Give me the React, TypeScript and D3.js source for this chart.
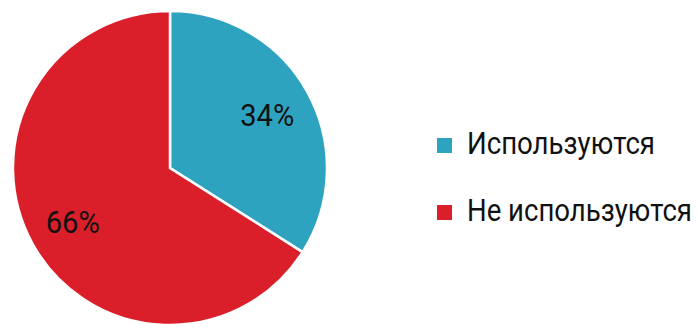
import React from "react";
import * as d3 from "d3";

const categories = ["Используются", "Не используются"];
const values = [34, 66];
const colors = ["#2EA3C0", "#DA1F2A"];
const legendWidths = [188, 225];

export default function App() {
  const W = 699, H = 324;
  const cx = 170, cy = 168, R = 157;
  const pie = d3.pie<number>().sort(null).value((d) => d);
  const arcs = pie(values);
  const arc = d3.arc<d3.PieArcDatum<number>>().innerRadius(0).outerRadius(R);
  const labelArc = d3.arc<d3.PieArcDatum<number>>().innerRadius(111).outerRadius(111);
  return (
    <svg width={W} height={H} style={{ position: "absolute", left: 0, top: 0, fontFamily: "Roboto, sans-serif" }}>
      <g transform={`translate(${cx},${cy})`}>
        {arcs.map((a, i) => (
          <path key={i} d={arc(a) || ""} fill={colors[i]} stroke="#fff" strokeWidth={2.5} strokeLinejoin="miter" />
        ))}
        {arcs.map((a, i) => {
          const [x, y] = labelArc.centroid(a);
          return (
            <text key={i} x={x} y={y} dy="0.36em" textAnchor="middle" fontSize={32} fill="#111"
              textLength={54} lengthAdjust="spacingAndGlyphs">
              {`${values[i]}%`}
            </text>
          );
        })}
      </g>
      {categories.map((c, i) => (
        <g key={c} transform={`translate(437,${138 + i * 67})`}>
          <rect width={15} height={15} fill={colors[i]} />
          <g transform="translate(30,16) scale(1,1.1)">
            <text x={0} y={0} fontSize={28} fill="#111" textLength={legendWidths[i]} lengthAdjust="spacingAndGlyphs">{c}</text>
          </g>
        </g>
      ))}
    </svg>
  );
}
